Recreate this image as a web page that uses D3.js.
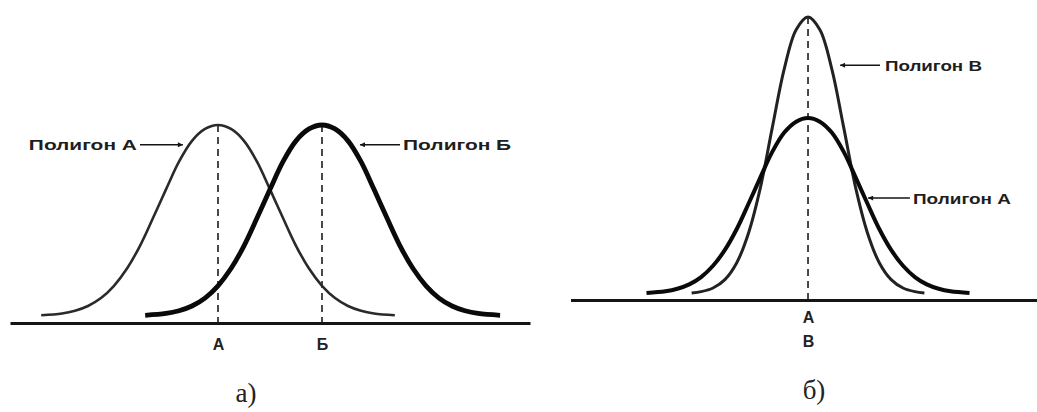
<!DOCTYPE html>
<html><head><meta charset="utf-8">
<script src="https://cdn.jsdelivr.net/npm/d3@7"></script>
<style>body{margin:0;background:#fff}svg{display:block}</style>
</head><body><svg id="c" width="1037" height="412"></svg>
<script>
// ---- Panel а) : two polygons with equal spread, different means ----
const polyA_a_x = [-6.8,-6,-5.5,-5,-4.5,-4,-3.5,-3,-2.5,-2,-1.5,-1,-0.5,0,0.5,1,1.5,2,2.5,3,3.5,4,4.5,5,5.5,6,6.8];
const polyA_a_y = [3.9,4.8,6.2,8.6,12.6,18.8,27.5,39,53,67.5,81.5,92,98,100,98,92,81.5,67.5,53,39,27.5,18.8,12.6,8.6,6.2,4.8,3.9];
const polyB_a_x = [-2.8,-2,-1.5,-1,-0.5,0,0.5,1,1.5,2,2.5,3,3.5,4,4.5,5,5.5,6,6.5,7,7.5,8,8.5,9,9.5,10,10.85];
const polyB_a_y = [3.9,4.8,6.2,8.6,12.6,18.8,27.5,39,53,67.5,81.5,92,98,100,98,92,81.5,67.5,53,39,27.5,18.8,12.6,8.6,6.2,4.8,3.9];
const ticks_a = [0, 4];
const tickLabels_a = ["А", "Б"];
const meanLines_a = [0, 4];

// ---- Panel б) : same mean, different spread ----
const polyA_b_x = [-6.8,-6,-5.5,-5,-4.5,-4,-3.5,-3,-2.5,-2,-1.5,-1,-0.5,0,0.5,1,1.5,2,2.5,3,3.5,4,4.5,5,5.5,6,6.8];
const polyA_b_y = [3.9,4.8,6.2,8.6,12.6,18.8,27.5,39,53,67.5,81.5,92,98,100,98,92,81.5,67.5,53,39,27.5,18.8,12.6,8.6,6.2,4.8,3.9];
const polyV_b_x = [-4.9,-4.5,-4,-3.5,-3,-2.5,-2,-1.5,-1,-0.5,0,0.5,1,1.5,2,2.5,3,3.5,4,4.5,4.9];
const polyV_b_y = [3.9,4.6,6.6,11.2,20.5,37,62,95,127,148.5,155.5,148.5,127,95,62,37,20.5,11.2,6.6,4.6,3.9];
const ticks_b = [0];
const tickLabels_b = [["А", "В"]];

const captions = ["а)", "б)"];
const seriesNames = ["Полигон А", "Полигон Б", "Полигон В"];

const svg = d3.select("#c");
const ink = "#151515";

const defs = svg.append("defs");
defs.append("marker").attr("id","arr").attr("viewBox","0 0 10 10").attr("refX",10).attr("refY",5)
  .attr("markerWidth",6).attr("markerHeight",5).attr("markerUnits","userSpaceOnUse").attr("orient","auto")
  .append("path").attr("d","M0,0L10,5L0,10z").attr("fill",ink);

function zip(xs, ys){ return xs.map((x,i)=>[x, ys[i]]); }

// ===== Panel а =====
const xa = d3.scaleLinear().domain([-8, 12]).range([10, 530]);
const ya = d3.scaleLinear().domain([0, 100]).range([323, 125]);
const lineA = d3.line().x(d=>xa(d[0])).y(d=>ya(d[1])).curve(d3.curveCatmullRom.alpha(0.5));

const ga = svg.append("g");
meanLines_a.forEach(m=>{
  ga.append("line").attr("x1",xa(m)).attr("x2",xa(m)).attr("y1",ya(100)).attr("y2",ya(0))
    .attr("stroke","#2a2a2a").attr("stroke-width",1.7).attr("stroke-dasharray","7,5");
});
ga.append("path").attr("d", lineA(zip(polyA_a_x, polyA_a_y))).attr("fill","none")
  .attr("stroke","#2a2a2a").attr("stroke-width",2.6);
ga.append("path").attr("d", lineA(zip(polyB_a_x, polyB_a_y))).attr("fill","none")
  .attr("stroke","#0a0a0a").attr("stroke-width",4.8);

const axA = ga.append("g").attr("transform",`translate(0,${ya(0)})`)
  .call(d3.axisBottom(xa).tickValues(ticks_a).tickFormat((d,i)=>tickLabels_a[i]).tickSize(0).tickSizeOuter(0).tickPadding(16));
axA.select(".domain").attr("stroke",ink).attr("stroke-width",2.8);
axA.selectAll("text").attr("font-family","Liberation Sans, Arial, sans-serif").attr("font-weight","bold")
  .attr("font-size",16).attr("fill","#222");

// ===== Panel б =====
const xb = d3.scaleLinear().domain([-10, 9.7]).range([570.5, 1038.4]);
const yb = d3.scaleLinear().domain([0, 100]).range([300, 118]);
const lineB = d3.line().x(d=>xb(d[0])).y(d=>yb(d[1])).curve(d3.curveCatmullRom.alpha(0.5));
const gb = svg.append("g");
gb.append("line").attr("x1",xb(0)).attr("x2",xb(0)).attr("y1",yb(d3.max(polyV_b_y))).attr("y2",yb(0))
  .attr("stroke","#2a2a2a").attr("stroke-width",1.7).attr("stroke-dasharray","7,5");
gb.append("path").attr("d", lineB(zip(polyV_b_x, polyV_b_y))).attr("fill","none")
  .attr("stroke","#222").attr("stroke-width",3);
gb.append("path").attr("d", lineB(zip(polyA_b_x, polyA_b_y))).attr("fill","none")
  .attr("stroke","#0a0a0a").attr("stroke-width",4);

const axB = gb.append("g").attr("transform",`translate(0,${yb(0)})`)
  .call(d3.axisBottom(xb).tickValues(ticks_b).tickFormat(()=> "").tickSize(0).tickSizeOuter(0).tickPadding(12));
axB.select(".domain").attr("stroke",ink).attr("stroke-width",2.8);
axB.selectAll(".tick").each(function(d,i){
  const t = d3.select(this).select("text").attr("font-family","Liberation Sans, Arial, sans-serif")
    .attr("font-weight","bold").attr("font-size",16).attr("fill","#222").attr("dy",null);
  tickLabels_b[i].forEach((s,j)=>{
    t.append("tspan").attr("x",0).attr("dy", j===0 ? 11 : 24).text(s);
  });
});

// ===== Labels with arrows =====
const labFont = "Liberation Sans, Arial, sans-serif";
function label(g, xs, ys, text, textX, arrowFrom, arrowTo, val, anchor, len){
  const y = ys(val);
  g.append("line").attr("x1",xs(arrowFrom)).attr("x2",xs(arrowTo)).attr("y1",y).attr("y2",y)
    .attr("stroke",ink).attr("stroke-width",1.5).attr("marker-end","url(#arr)");
  g.append("text").attr("x",xs(textX)).attr("y",y).attr("dy","0.36em").attr("text-anchor",anchor)
    .attr("font-family",labFont).attr("font-weight","bold").attr("font-size",15.5).attr("fill","#1e1e1e")
    .attr("textLength",len).attr("lengthAdjust","spacingAndGlyphs").text(text);
}
label(ga, xa, ya, seriesNames[0], -3.12, -3.0, -1.35, 90, "end", 108);
label(ga, xa, ya, seriesNames[1], 7.12, 7.0, 5.46, 90, "start", 108);
label(gb, xb, yb, seriesNames[2], 3.24, 3.03, 1.35, 129, "start", 97);
label(gb, xb, yb, seriesNames[0], 4.42, 4.29, 2.53, 56, "start", 98);

// ===== Captions =====
svg.append("text").attr("x",246).attr("y",402).attr("text-anchor","middle")
  .attr("font-family","Liberation Serif, Times New Roman, serif").attr("font-size",27).attr("fill","#222").text(captions[0]);
svg.append("text").attr("x",814).attr("y",399).attr("text-anchor","middle")
  .attr("font-family","Liberation Serif, Times New Roman, serif").attr("font-size",27).attr("fill","#222").text(captions[1]);
</script></body></html>
